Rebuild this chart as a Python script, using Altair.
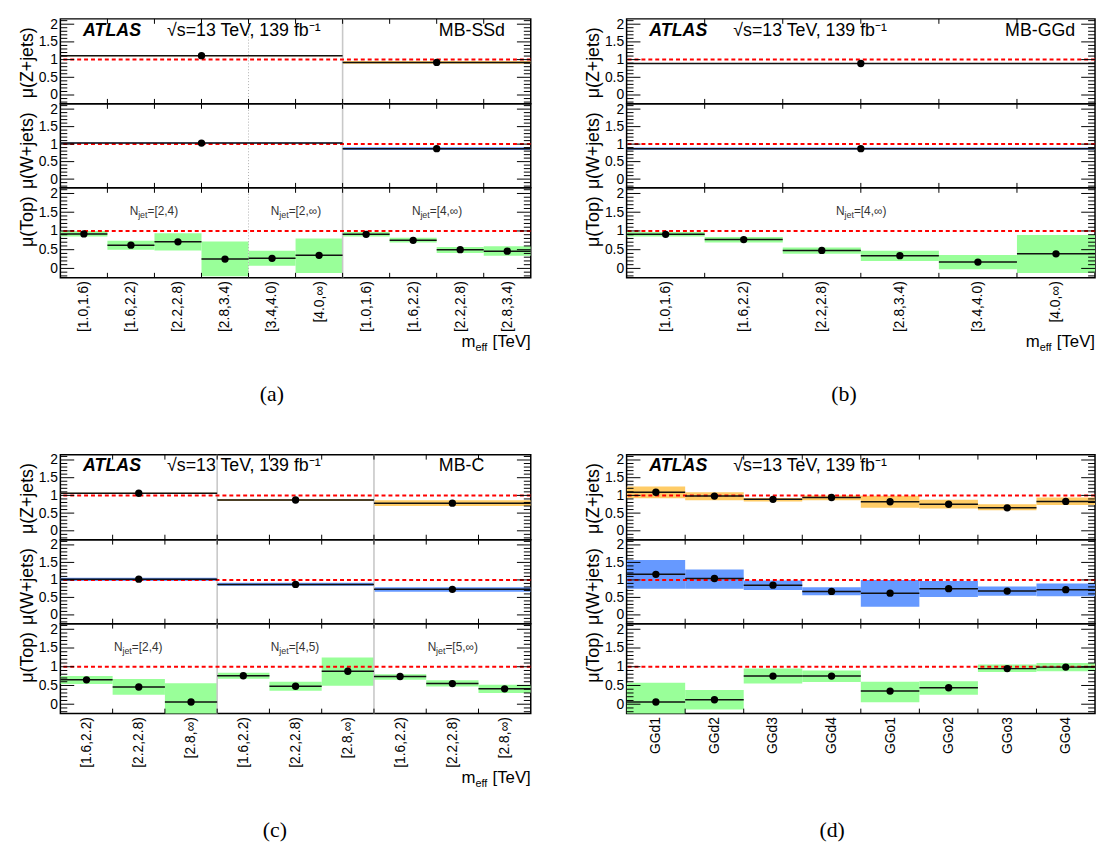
import json
import altair as alt
import pandas as pd

# ---------------- data ----------------
A_LABELS = ["[1.0,1.6)", "[1.6,2.2)", "[2.2,2.8)", "[2.8,3.4)", "[3.4,4.0)", "[4.0,∞)",
            "[1.0,1.6)", "[1.6,2.2)", "[2.2,2.8)", "[2.8,3.4)"]
A_TOP_VAL = [0.92, 0.62, 0.71, 0.25, 0.27, 0.35, 0.91, 0.75, 0.50, 0.46]
A_TOP_LO = [0.85, 0.50, 0.48, -0.21, 0.07, -0.12, 0.85, 0.69, 0.41, 0.34]
A_TOP_HI = [1.00, 0.74, 0.94, 0.72, 0.47, 0.80, 0.97, 0.82, 0.57, 0.59]
A_REG_EDGES = [0, 6, 10]
A_Z_VAL = [1.11, 0.92]
A_Z_LO = [1.095, 0.88]
A_Z_HI = [1.125, 0.96]
A_W_VAL = [1.03, 0.87]
A_W_LO = [1.015, 0.83]
A_W_HI = [1.045, 0.91]
A_NJET_EDGES = [0, 4, 6, 10]
A_NJET_TXT = ["=[2,4)", "=[2,∞)", "=[4,∞)"]

B_LABELS = ["[1.0,1.6)", "[1.6,2.2)", "[2.2,2.8)", "[2.8,3.4)", "[3.4,4.0)", "[4.0,∞)"]
B_TOP_VAL = [0.91, 0.77, 0.48, 0.34, 0.17, 0.39]
B_TOP_LO = [0.85, 0.69, 0.39, 0.20, -0.02, -0.12]
B_TOP_HI = [0.97, 0.84, 0.56, 0.47, 0.36, 0.89]
B_REG_EDGES = [0, 6]
B_Z_VAL = [0.89]
B_Z_LO = [0.875]
B_Z_HI = [0.905]
B_W_VAL = [0.87]
B_W_LO = [0.84]
B_W_HI = [0.90]
B_NJET_EDGES = [0, 6]
B_NJET_TXT = ["=[4,∞)"]

C_LABELS = ["[1.6,2.2)", "[2.2,2.8)", "[2.8,∞)", "[1.6,2.2)", "[2.2,2.8)", "[2.8,∞)",
            "[1.6,2.2)", "[2.2,2.8)", "[2.8,∞)"]
C_TOP_VAL = [0.65, 0.46, 0.06, 0.76, 0.48, 0.88, 0.74, 0.55, 0.41]
C_TOP_LO = [0.54, 0.25, -0.35, 0.68, 0.36, 0.49, 0.65, 0.47, 0.30]
C_TOP_HI = [0.75, 0.67, 0.56, 0.84, 0.60, 1.25, 0.80, 0.64, 0.52]
C_REG_EDGES = [0, 3, 6, 9]
C_Z_VAL = [1.06, 0.87, 0.78]
C_Z_LO = [1.045, 0.84, 0.70]
C_Z_HI = [1.075, 0.90, 0.86]
C_W_VAL = [1.02, 0.87, 0.73]
C_W_LO = [0.97, 0.83, 0.66]
C_W_HI = [1.06, 0.92, 0.79]
C_NJET_EDGES = [0, 3, 6, 9]
C_NJET_TXT = ["=[2,4)", "=[4,5)", "=[5,∞)"]

D_LABELS = ["GGd1", "GGd2", "GGd3", "GGd4", "GGo1", "GGo2", "GGo3", "GGo4"]
D_Z_VAL = [1.09, 0.98, 0.89, 0.94, 0.82, 0.75, 0.65, 0.83]
D_Z_LO = [0.92, 0.86, 0.83, 0.86, 0.65, 0.63, 0.58, 0.73]
D_Z_HI = [1.25, 1.09, 0.93, 1.00, 0.99, 0.88, 0.75, 0.94]
D_W_VAL = [1.16, 1.04, 0.85, 0.67, 0.62, 0.75, 0.68, 0.72]
D_W_LO = [0.75, 0.75, 0.71, 0.56, 0.23, 0.51, 0.55, 0.53]
D_W_HI = [1.57, 1.30, 0.98, 0.79, 1.00, 0.97, 0.81, 0.90]
D_TOP_VAL = [0.06, 0.12, 0.75, 0.75, 0.35, 0.44, 0.95, 0.99]
D_TOP_LO = [-0.35, -0.14, 0.55, 0.59, 0.05, 0.25, 0.86, 0.88]
D_TOP_HI = [0.57, 0.38, 0.95, 0.90, 0.60, 0.61, 1.06, 1.10]

Y_MAJOR = [0, 0.5, 1, 1.5, 2]
Y_MINOR = [v / 10 for v in range(-2, 22) if v % 5 != 0]
NJET_Y = 1.52
REF_Y = [1.0]

# ---------------- style ----------------
FONT = "Liberation Sans"
SERIF = "Liberation Serif"
YDOM = [-0.25, 2.15]
C_Z, C_W, C_T = "#ffcc66", "#6699ff", "#99ff99"
H_Z, H_W, H_T = 86, 85, 91


def make_row(n, width, height, edges, vals, los, his, color, ytitle,
             xlabels=None, seps_solid=(), seps_dot=(), extra=()):
    xs = alt.Scale(domain=[0, n], nice=False, zero=False)
    ys = alt.Scale(domain=YDOM, nice=False, zero=False)
    df = pd.DataFrame({"x0": edges[:-1], "x1": edges[1:], "val": vals, "lo": los, "hi": his})
    df["xc"] = (df["x0"] + df["x1"]) / 2
    if xlabels is not None:
        xaxis = alt.Axis(values=[i + 0.5 for i in range(n)],
                         labelExpr=json.dumps(xlabels, ensure_ascii=False) + "[floor(datum.value)]",
                         labelAngle=-90, labelAlign="right", labelBaseline="middle",
                         labelPadding=3, labelFont=FONT, labelFontSize=14, labelColor="black",
                         ticks=False, tickSize=0, domain=False, grid=False, labelOverlap=False,
                         labelFlush=False, title=None)
    else:
        xaxis = None
    yaxis = alt.Axis(values=Y_MAJOR, format="~g", labelFont=FONT, labelFontSize=14,
                     labelColor="black", labelPadding=3, ticks=False, tickSize=0,
                     domain=False, grid=False, labelOverlap=False, labelFlush=False,
                     title=ytitle, titleFont=FONT, titleFontSize=18, titleFontWeight="normal",
                     titleColor="black", titleAngle=270, titleAnchor="end", titleAlign="right",
                     titleBaseline="alphabetic", titleX=-28, titleY=8)

    def X(f):
        return alt.X(f, scale=xs, axis=xaxis)

    def Y(f):
        return alt.Y(f, scale=ys, axis=yaxis)

    layers = []
    layers.append(alt.Chart(df).mark_rect(color=color, clip=True, opacity=1).encode(
        x=X("x0:Q"), x2="x1:Q", y=Y("lo:Q"), y2="hi:Q"))
    if seps_dot:
        layers.append(alt.Chart(pd.DataFrame({"x0": list(seps_dot)})).mark_rule(
            color="#b0b0b0", strokeWidth=1, strokeDash=[1, 2]).encode(x=X("x0:Q")))
    if seps_solid:
        layers.append(alt.Chart(pd.DataFrame({"x0": list(seps_solid)})).mark_rule(
            color="#c8c8c8", strokeWidth=1.6).encode(x=X("x0:Q")))
    layers.append(alt.Chart(pd.DataFrame({"lo": REF_Y})).mark_rule(
        color="#ff0000", strokeWidth=2, strokeDash=[4, 3]).encode(y=Y("lo:Q")))
    layers.append(alt.Chart(df).mark_rule(color="#111111", strokeWidth=1.5).encode(
        x=X("x0:Q"), x2="x1:Q", y=Y("val:Q")))
    layers.append(alt.Chart(df).mark_circle(color="black", size=55, opacity=1).encode(
        x=X("xc:Q"), y=Y("val:Q")))
    # inward ticks
    tk = dict(color="black", strokeWidth=1)
    dmaj = pd.DataFrame({"lo": Y_MAJOR})
    dmin = pd.DataFrame({"lo": Y_MINOR})
    for d, ln in ((dmaj, 14), (dmin, 7)):
        layers.append(alt.Chart(d).mark_rule(**tk).encode(
            y=Y("lo:Q"), x=alt.value(0), x2=alt.value(ln)))
        layers.append(alt.Chart(d).mark_rule(**tk).encode(
            y=Y("lo:Q"), x=alt.value(width - ln), x2=alt.value(width)))
    dx = pd.DataFrame({"x0": list(range(1, n))})
    layers.append(alt.Chart(dx).mark_rule(**tk).encode(
        x=X("x0:Q"), y=alt.value(0), y2=alt.value(5)))
    layers.append(alt.Chart(dx).mark_rule(**tk).encode(
        x=X("x0:Q"), y=alt.value(height - 5), y2=alt.value(height)))
    for e in extra:
        layers.append(e(X, Y))
    return alt.layer(*layers).properties(width=width, height=height)


def header(region):
    def f(X, Y):
        out = [
            alt.Chart(pd.DataFrame({"t": ["ATLAS"]})).mark_text(
                font=FONT, fontSize=18, fontWeight="bold", fontStyle="italic",
                align="left", baseline="middle", color="black").encode(
                x=alt.value(23), y=alt.value(12), text="t:N"),
            alt.Chart(pd.DataFrame({"t": ["√s=13 TeV, 139 fb⁻¹"]})).mark_text(
                font=FONT, fontSize=18, align="left", baseline="middle", color="black").encode(
                x=alt.value(108), y=alt.value(12), text="t:N"),
        ]
        if region:
            out.append(alt.Chart(pd.DataFrame({"t": [region]})).mark_text(
                font=FONT, fontSize=18, align="left", baseline="middle", color="black").encode(
                x=alt.value(383), y=alt.value(12), text="t:N"))
        return alt.layer(*out)
    return f


def njet(edges, txt):
    def f(X, Y):
        d = pd.DataFrame({"xc": [(a + b) / 2 for a, b in zip(edges[:-1], edges[1:])],
                          "lo": [NJET_Y] * len(txt), "t": txt})
        base = alt.Chart(d)
        enc = dict(x=X("xc:Q"), y=Y("lo:Q"))
        return alt.layer(
            base.mark_text(font=FONT, fontSize=12, align="left", baseline="middle",
                           color="#333333", dx=-25).encode(text=alt.value("N"), **enc),
            base.mark_text(font=FONT, fontSize=9, align="left", baseline="middle",
                           color="#333333", dx=-16.5, dy=4).encode(text=alt.value("jet"), **enc),
            base.mark_text(font=FONT, fontSize=12, align="left", baseline="middle",
                           color="#333333", dx=-7).encode(text="t:N", **enc),
        )
    return f


def footer(width, height, caption, cap_x, meff=True):
    def f(X, Y):
        out = []
        if meff:
            out += [
                alt.Chart(pd.DataFrame({"t": ["[TeV]"]})).mark_text(
                    font=FONT, fontSize=17, align="right", baseline="alphabetic",
                    color="black").encode(x=alt.value(width), y=alt.value(height + 70), text="t:N"),
                alt.Chart(pd.DataFrame({"t": ["eff"]})).mark_text(
                    font=FONT, fontSize=11, align="right", baseline="alphabetic",
                    color="black").encode(x=alt.value(width - 44), y=alt.value(height + 74), text="t:N"),
                alt.Chart(pd.DataFrame({"t": ["m"]})).mark_text(
                    font=FONT, fontSize=17, align="right", baseline="alphabetic",
                    color="black").encode(x=alt.value(width - 56), y=alt.value(height + 70), text="t:N"),
            ]
        out.append(alt.Chart(pd.DataFrame({"t": [caption]})).mark_text(
            font=SERIF, fontSize=22, align="center", baseline="middle",
            color="black").encode(x=alt.value(cap_x), y=alt.value(height + 118), text="t:N"))
        return alt.layer(*out)
    return f


def panel(width, labels, zrows, wrows, trows, region, njet_edges, njet_txt,
          seps_solid, seps_dot, caption, cap_x, meff=True):
    n = len(labels)
    z = make_row(n, width, H_Z, zrows[0], *zrows[1:], C_Z, "μ(Z+jets)",
                 seps_solid=seps_solid, seps_dot=seps_dot, extra=[header(region)])
    w = make_row(n, width, H_W, wrows[0], *wrows[1:], C_W, "μ(W+jets)",
                 seps_solid=seps_solid, seps_dot=seps_dot)
    ex = [footer(width, H_T, caption, cap_x, meff)]
    if njet_txt:
        ex.append(njet(njet_edges, njet_txt))
    t = make_row(n, width, H_T, trows[0], *trows[1:], C_T, "μ(Top)", xlabels=labels,
                 seps_solid=seps_solid, seps_dot=seps_dot, extra=ex)
    return alt.vconcat(z, w, t, spacing=0, bounds="flush")


WL, WR = 476, 474
pa = panel(WL, A_LABELS,
           (A_REG_EDGES, A_Z_VAL, A_Z_LO, A_Z_HI),
           (A_REG_EDGES, A_W_VAL, A_W_LO, A_W_HI),
           (list(range(len(A_LABELS) + 1)), A_TOP_VAL, A_TOP_LO, A_TOP_HI),
           "MB-SSd", A_NJET_EDGES, A_NJET_TXT, [6], [4], "(a)", 214)
pb = panel(WR, B_LABELS,
           (B_REG_EDGES, B_Z_VAL, B_Z_LO, B_Z_HI),
           (B_REG_EDGES, B_W_VAL, B_W_LO, B_W_HI),
           (list(range(len(B_LABELS) + 1)), B_TOP_VAL, B_TOP_LO, B_TOP_HI),
           "MB-GGd", B_NJET_EDGES, B_NJET_TXT, [], [], "(b)", 220)
pc = panel(WL, C_LABELS,
           (C_REG_EDGES, C_Z_VAL, C_Z_LO, C_Z_HI),
           (C_REG_EDGES, C_W_VAL, C_W_LO, C_W_HI),
           (list(range(len(C_LABELS) + 1)), C_TOP_VAL, C_TOP_LO, C_TOP_HI),
           "MB-C", C_NJET_EDGES, C_NJET_TXT, [3, 6], [], "(c)", 217)
pd_ = panel(WR, D_LABELS,
            (list(range(len(D_LABELS) + 1)), D_Z_VAL, D_Z_LO, D_Z_HI),
            (list(range(len(D_LABELS) + 1)), D_W_VAL, D_W_LO, D_W_HI),
            (list(range(len(D_LABELS) + 1)), D_TOP_VAL, D_TOP_LO, D_TOP_HI),
            None, [], [], [], [], "(d)", 208, meff=False)

chart = alt.vconcat(
    alt.hconcat(pa, pb, spacing=52),
    alt.hconcat(pc, pd_, spacing=52),
    spacing=46,
).properties(
    padding={"left": 10, "top": 3, "right": 0, "bottom": 0},
    background="white",
).configure_view(stroke="black", strokeWidth=1.5)

chart.save("out.html", embed_options={"renderer": "svg", "actions": False})
